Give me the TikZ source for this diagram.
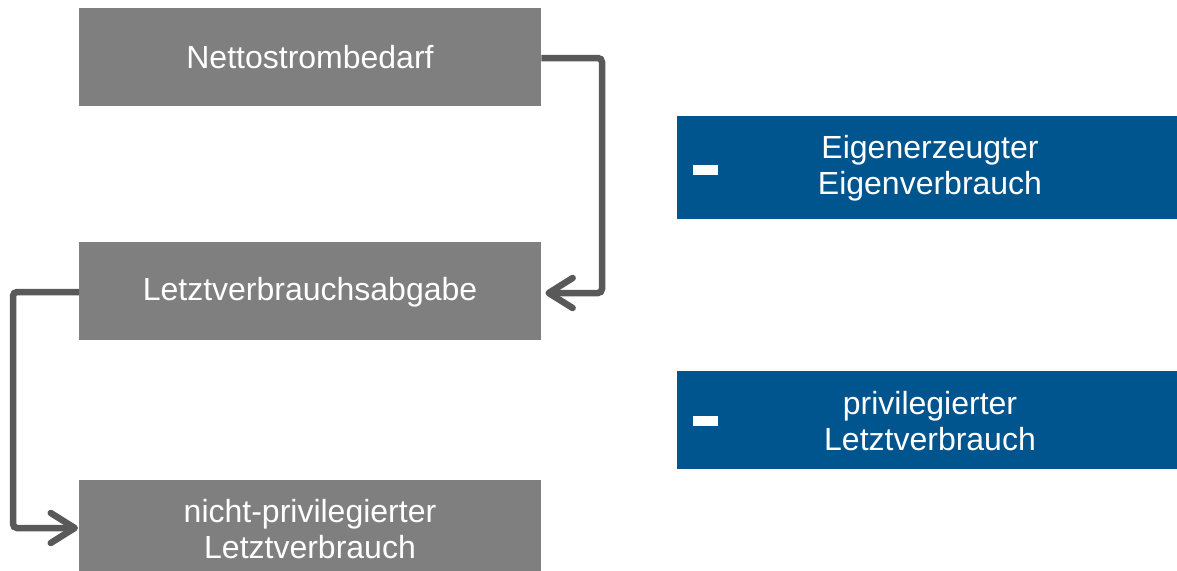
\documentclass[tikz,border=0pt]{standalone}
\usepackage{fontspec}
\setmainfont{Liberation Sans}
\usetikzlibrary{arrows.meta}
\definecolor{boxgray}{HTML}{7F7F7F}
\definecolor{linegray}{HTML}{595959}
\definecolor{boxblue}{HTML}{00558F}
\begin{document}
\begin{tikzpicture}[x=1pt,y=-1pt,
  graybox/.style={fill=boxgray,draw=none,minimum width=462pt,minimum height=98pt,inner sep=0pt,anchor=north west},
  bluebox/.style={fill=boxblue,draw=none,minimum width=500pt,minimum height=103pt,inner sep=0pt,anchor=north west},
  boxtext/.style={text=white,align=center,font=\fontsize{32}{36}\selectfont},
  minusbar/.style={fill=white,draw=none},
  flow/.style={draw=linegray,line width=6.5pt,rounded corners=4pt,-{Straight Barb[length=24pt,width=30pt,line cap=round,line join=round]}}
]
\useasboundingbox (0,0) rectangle (1177,570);
\node[graybox] (n1) at (79,8) {};
\node[boxtext] (t1) at (310,57) {Nettostrombedarf};
\node[graybox] (n2) at (79,242) {};
\node[boxtext] (t2) at (310,292) {Letztverbrauchsabgabe};
\node[graybox,minimum height=92pt] (n3) at (79,480) {};
\node[boxtext] (t3) at (310,529) {nicht-privilegierter\\ Letztverbrauch};
\node[bluebox] (b1) at (677,116) {};
\node[boxtext] (bt1) at (930,168) {Eigenerzeugter\\Eigenverbrauch};
\fill[minusbar] (693,165) rectangle (718,175);
\node[bluebox,minimum height=98pt] (b2) at (677,371) {};
\node[boxtext] (bt2) at (930,421) {privilegierter\\Letztverbrauch};
\fill[minusbar] (693,416) rectangle (718,426);
\coordinate (c1) at (602,58);
\coordinate (c2) at (602,293);
\coordinate (c3) at (13,292);
\coordinate (c4) at (13,528);
\draw[flow] (n1.east |- c1) -- (c1) -- (c2) -- ([xshift=4pt]n2.east |- c2);
\draw[flow] (n2.west |- c3) -- (c3) -- (c4) -- ([xshift=-1pt]n3.west |- c4);
\end{tikzpicture}
\end{document}
